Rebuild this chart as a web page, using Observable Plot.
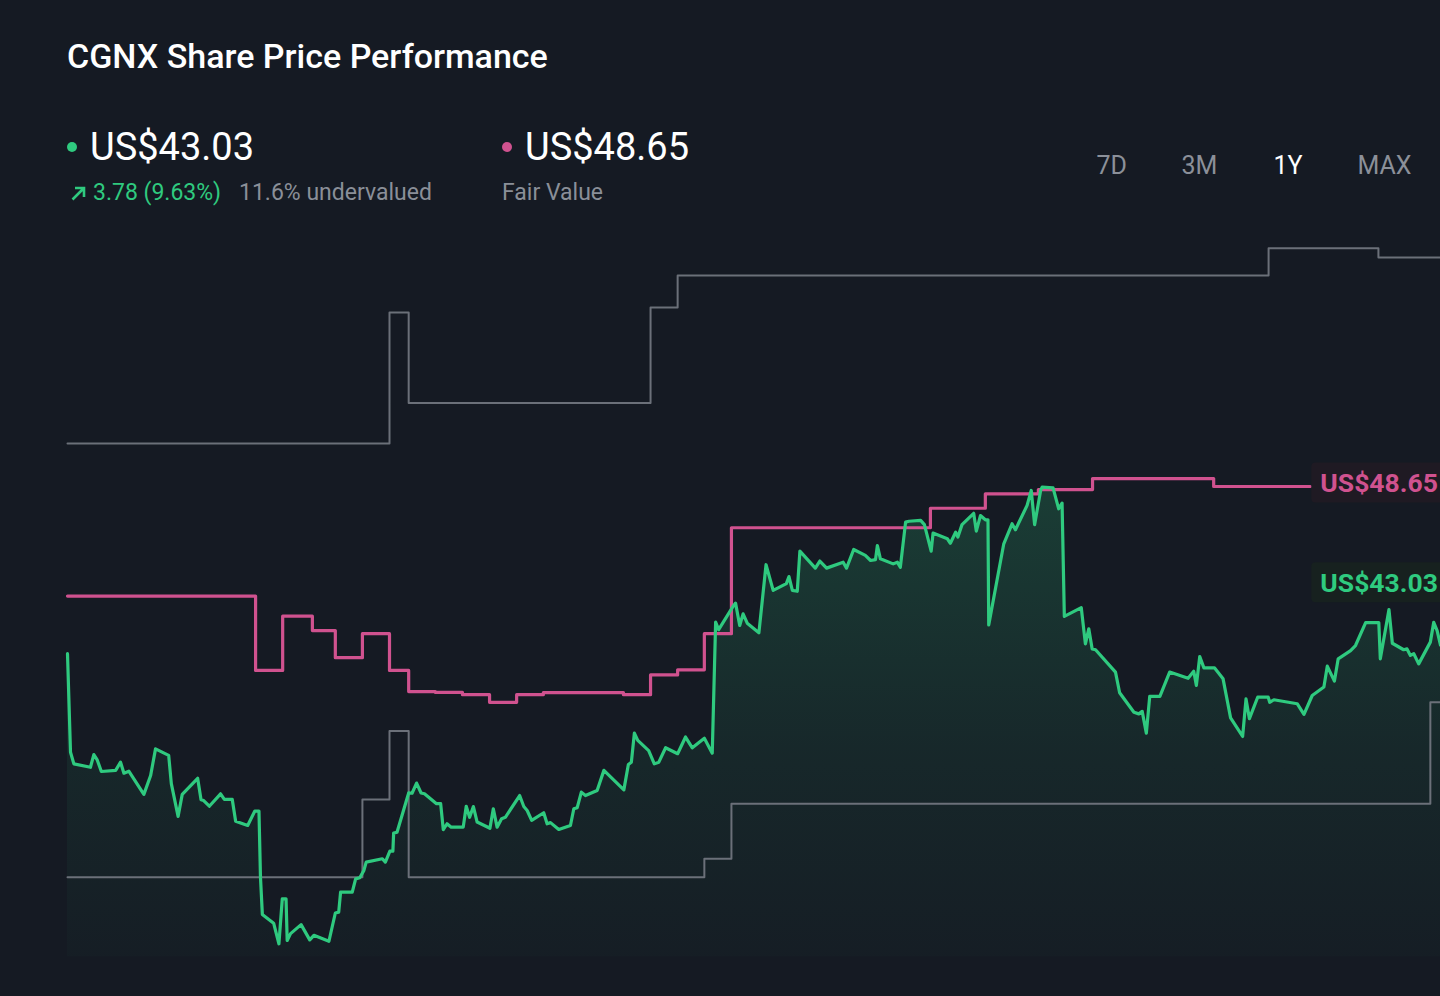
<!DOCTYPE html>
<html>
<head>
<meta charset="utf-8">
<script src="https://cdn.jsdelivr.net/npm/d3@7"></script>
<script src="https://cdn.jsdelivr.net/npm/@observablehq/plot@0.6"></script>
<style>
html, body { margin: 0; padding: 0; background: #151a23; }
body { width: 1440px; height: 996px; overflow: hidden; position: relative; font-family: Roboto, "Noto Sans", sans-serif; }
#header { position: relative; width: 1440px; height: 225px; }
.abs { position: absolute; line-height: 1; white-space: nowrap; }
#title { left: 67px; top: 38.5px; font-size: 34px; font-weight: 500; color: #ffffff; }
.big { font-size: 38px; font-weight: 400; color: #ffffff; }
.small { font-size: 23px; font-weight: 400; }
.dot { position: absolute; width: 10px; height: 10px; border-radius: 50%; }
.tab { font-size: 25px; color: #8b9099; top: 153px; }
.tab.active { color: #ffffff; }
#chart { position: absolute; left: 0; top: 225px; }
</style>
</head>
<body>
<div id="header">
  <div id="title" class="abs"></div>
  <div class="dot" style="left:67px; top:142px; background:#2fca7f;"></div>
  <div id="price" class="abs big" style="left:90px; top:128px;"></div>
  <svg class="abs" style="left:70px; top:185px;" width="17" height="17" viewBox="0 0 17 17">
    <path d="M2.5 14.5 L14 3 M5 3 H14 V12" fill="none" stroke="#2fca7f" stroke-width="2.6"/>
  </svg>
  <div id="change" class="abs small" style="left:93px; top:181px; color:#2fca7f;"></div>
  <div id="underval" class="abs small" style="left:239px; top:181px; color:#8a8f98;"></div>
  <div class="dot" style="left:502px; top:142px; background:#d0528f;"></div>
  <div id="fv" class="abs big" style="left:525px; top:128px;"></div>
  <div id="fvlabel" class="abs small" style="left:502px; top:181px; color:#8a8f98;"></div>
  <div id="tabs"></div>
</div>
<div id="chart"></div>
<script>
// ---- Header values ----
const ticker = "CGNX";
const lastPrice = 43.03;
const fairValue = 48.65;
const priceChange = 3.78;
const priceChangePct = 9.63;
const undervaluedPct = 11.6;
const tabLabels = ["7D", "3M", "1Y", "MAX"];
const activeTab = "1Y";

// ---- Share price (day offset within the 1Y window, price US$) ----
const priceDays = [0,0.8,1.7,6.1,7.0,7.9,9.0,12.8,14.1,15.0,16.3,20.3,22.1,23.4,26.9,27.6,29.4,30.5,34.6,35.5,36.2,37.7,40.7,41.7,43.8,44.7,47.9,49.8,50.9,51.3,51.8,54.8,56.2,57.1,58.1,58.4,59.3,62.1,64.4,65.5,69.5,71.2,72.1,72.6,75.7,76.6,77.7,78.8,79.4,83.7,84.5,85.7,86.5,86.7,87.6,90.7,91.6,92.8,94.0,94.9,98.1,99.2,99.9,100.9,102.0,105.2,106.0,106.9,107.9,108.9,112.3,113.2,114.2,115.4,116.4,120.2,121.3,122.2,123.4,126.6,127.5,128.4,130.6,133.7,134.6,135.5,136.6,137.7,140.8,142.6,147.9,149.1,149.9,150.7,151.6,154.5,156.0,157.2,159.0,162.2,164.3,166.1,169.3,171.4,172.3,173.1,177.1,177.6,178.7,179.6,180.7,183.8,185.7,187.6,191.1,191.8,192.7,194.0,194.7,198.8,200.0,201.8,206.2,207.1,209.0,212.1,213.5,214.8,215.3,216.1,219.5,220.6,221.4,222.8,223.7,226.8,227.8,229.6,230.1,233.9,234.7,236.1,236.7,237.8,240.9,241.6,242.7,244.0,244.7,244.9,248.9,251.1,252.0,255.1,256.2,257.1,258.7,259.1,262.0,263.5,264.4,265.0,269.5,270.6,271.5,272.4,273.3,278.6,279.7,283.5,284.8,285.7,286.8,287.7,290.4,293.0,297.9,299.4,300.1,301.0,302.1,304.9,307.2,309.2,312.4,313.3,314.2,316.4,319.2,319.6,320.7,326.9,328.7,330.9,334.0,334.9,336.8,337.8,341.1,342.4,345.1,348.6,349.0,351.3,352.2,355.2,356.1,357.0,357.9,359.2,362.3,363.2,364.1,365.0];
const priceValues = [42.73,39.24,38.83,38.71,39.16,38.97,38.56,38.60,38.89,38.50,38.57,37.75,38.42,39.36,39.13,38.13,36.97,37.75,38.32,37.56,37.53,37.33,37.77,37.57,37.57,36.80,36.65,37.16,37.16,34.82,33.50,33.19,32.46,34.05,34.05,32.58,32.82,33.14,32.60,32.76,32.55,33.55,33.58,34.29,34.29,34.76,34.80,35.06,35.35,35.47,35.35,35.74,35.74,36.38,36.41,37.80,37.79,38.15,37.80,37.77,37.42,37.42,36.50,36.71,36.59,36.59,37.33,36.94,37.32,36.77,36.55,37.24,36.59,36.89,36.94,37.71,37.32,37.18,36.83,37.10,36.71,36.75,36.51,36.65,37.24,37.28,37.83,37.71,37.89,38.60,37.91,38.81,38.89,39.92,39.66,39.30,38.83,38.89,39.40,39.19,39.78,39.40,39.74,39.21,43.85,43.58,44.44,44.52,43.73,44.14,43.81,43.47,45.88,44.97,45.21,45.46,44.97,44.94,46.36,45.76,46.01,45.76,45.97,45.76,46.42,46.21,46.03,46.06,46.56,46.09,45.91,45.97,45.79,47.39,47.42,47.45,47.30,46.36,47.00,46.80,46.64,47.03,46.86,47.30,47.70,47.07,47.62,47.47,47.47,43.75,46.62,47.33,47.12,47.98,48.51,47.30,48.51,48.63,48.60,47.86,48.06,44.05,44.36,43.08,43.61,42.90,42.87,42.08,41.35,40.66,40.60,40.69,39.92,41.22,41.22,42.08,41.86,42.11,41.61,42.63,42.23,42.23,41.84,40.46,39.80,41.13,40.43,41.19,41.19,41.01,41.10,40.96,40.58,41.25,41.55,42.29,41.76,42.55,42.84,43.02,43.83,43.83,42.55,44.29,43.10,42.87,42.90,42.67,42.73,42.37,43.14,43.84,43.55,43.03];

// ---- Fair value estimate (step changes) ----
const fvDays = [0,50.0,57.2,65.1,71.2,78.4,85.6,90.7,97.8,105.0,112.2,119.4,126.5,147.8,155.0,162.2,169.3,176.5,229.4,244.0,258.1,272.5,304.7,330.4];
const fvValues = [44.77,42.14,44.06,43.55,42.59,43.44,42.14,41.39,41.36,41.28,41.01,41.28,41.35,41.28,41.98,42.16,43.44,47.19,47.88,48.39,48.54,48.93,48.65,48.65];

// ---- Analyst range bands (step changes) ----
const upperDays = [0,85.6,90.7,155.0,162.2,319.3,348.5,365];
const upperValues = [50.17,54.81,51.61,54.99,56.12,57.08,56.76,56.76];
const lowerDays = [0,78.4,85.6,90.7,169.3,176.5,362.3,365];
const lowerValues = [34.82,37.57,39.99,34.82,35.47,37.42,41.01,41.01];

const yBottom = 32;
const colGreen = "#2fca7f", colPink = "#d0528f", colGray = "#6b7079";

// ---- Header text ----
document.getElementById("title").textContent = ticker + " Share Price Performance";
document.getElementById("price").textContent = "US$" + lastPrice.toFixed(2);
document.getElementById("change").textContent = priceChange.toFixed(2) + " (" + priceChangePct.toFixed(2) + "%)";
document.getElementById("underval").textContent = undervaluedPct.toFixed(1) + "% undervalued";
document.getElementById("fv").textContent = "US$" + fairValue.toFixed(2);
document.getElementById("fvlabel").textContent = "Fair Value";
const tabLefts = [1096.5, 1181.5, 1273.5, 1357.5];
const tabsEl = document.getElementById("tabs");
tabLabels.forEach((t, i) => {
  const d = document.createElement("div");
  d.className = "abs tab" + (t === activeTab ? " active" : "");
  d.style.left = tabLefts[i] + "px";
  d.textContent = t;
  tabsEl.appendChild(d);
});

// ---- Data tables ----
const priceData = priceDays.map((d, i) => ({day: d, value: priceValues[i]}));
const fvData = fvDays.map((d, i) => ({day: d, value: fvValues[i]}));
const upperData = upperDays.map((d, i) => ({day: d, value: upperValues[i]}));
const lowerData = lowerDays.map((d, i) => ({day: d, value: lowerValues[i]}));
const fvEnd = fvData[fvData.length - 1];
const priceEnd = priceData[priceData.length - 1];

const defsMark = () => {
  const ns = "http://www.w3.org/2000/svg";
  const defs = document.createElementNS(ns, "defs");
  defs.innerHTML = '<linearGradient id="areaGrad" x1="0" y1="0" x2="0" y2="1">' +
    '<stop offset="0" stop-color="' + colGreen + '" stop-opacity="0.2"/>' +
    '<stop offset="0.55" stop-color="' + colGreen + '" stop-opacity="0.08"/>' +
    '<stop offset="1" stop-color="' + colGreen + '" stop-opacity="0.02"/>' +
    '</linearGradient>';
  return defs;
};

const labelFont = {fontFamily: "Roboto, 'Noto Sans', sans-serif", fontSize: 26.5, fontWeight: 700};

const chart = Plot.plot({
  width: 1440,
  height: 771,
  marginLeft: 67,
  marginRight: 0,
  marginTop: 0,
  marginBottom: 0,
  style: {background: "transparent", overflow: "visible"},
  x: {domain: [0, 365], range: [67, 1440], axis: null},
  y: {domain: [yBottom, 57.5], range: [731.3, 11], axis: null},
  marks: [
    defsMark,
    Plot.areaY(priceData, {x: "day", y1: () => yBottom, y2: "value", fill: "url(#areaGrad)"}),
    Plot.line(upperData, {x: "day", y: "value", curve: "step-after", stroke: colGray, strokeWidth: 2}),
    Plot.line(lowerData, {x: "day", y: "value", curve: "step-after", stroke: colGray, strokeWidth: 2}),
    Plot.line(fvData, {x: "day", y: "value", curve: "step-after", stroke: colPink, strokeWidth: 3.2}),
    Plot.line(priceData, {x: "day", y: "value", stroke: colGreen, strokeWidth: 3.2, strokeLinejoin: "round"}),
    Plot.text([fvEnd], {x: "day", y: "value", text: d => "US$" + fairValue.toFixed(2), textAnchor: "start", dx: 10, dy: -3, fill: colPink, className: "lbl-pink", ...labelFont}),
    Plot.text([priceEnd], {x: () => fvEnd.day, y: "value", text: d => "US$" + lastPrice.toFixed(2), textAnchor: "start", dx: 10, dy: -62, fill: colGreen, className: "lbl-green", ...labelFont})
  ]
});
document.getElementById("chart").appendChild(chart);

// label background boxes sized from the rendered text
function boxBehind(cls, color) {
  const g = chart.querySelector("." + cls);
  if (!g) return;
  const t = g.querySelector("text");
  if (!t) return;
  const bb = t.getBBox();
  const r = document.createElementNS("http://www.w3.org/2000/svg", "rect");
  const tr = t.getAttribute("transform");
  if (tr) r.setAttribute("transform", tr);
  r.setAttribute("x", bb.x - 9);
  r.setAttribute("y", bb.y + bb.height / 2 - 20);
  r.setAttribute("width", bb.width + 40);
  r.setAttribute("height", 40);
  r.setAttribute("rx", 4);
  r.setAttribute("fill", color);
  t.parentNode.insertBefore(r, t);
}
boxBehind("lbl-pink", "#1f1a23");
boxBehind("lbl-green", "#17211f");
</script>
</body>
</html>
